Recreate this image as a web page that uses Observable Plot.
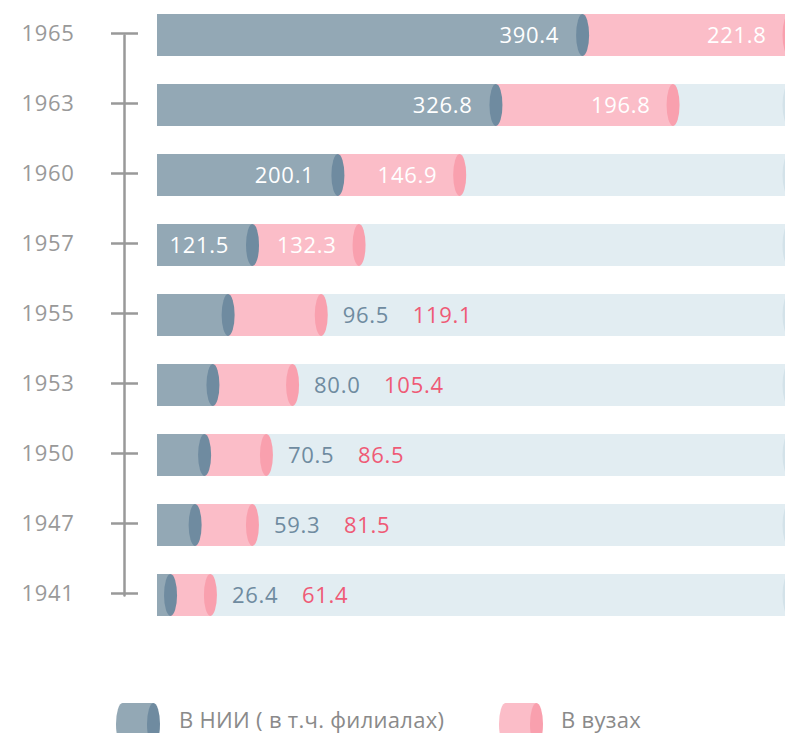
<!DOCTYPE html>
<html>
<head>
<meta charset="utf-8">
<script src="https://cdn.jsdelivr.net/npm/d3@7"></script>
<script src="https://cdn.jsdelivr.net/npm/@observablehq/plot@0.6"></script>
<style>
  body { margin: 0; background: #fff; font-family: "Open Sans", sans-serif; }
  #chart svg { display: block; }
  #chart text { letter-spacing: 0.7px; }
  #legend { position: relative; width: 785px; height: 43px; overflow: hidden; }
  #legend .icon { position: absolute; top: 13px; }
  #legend .lbl { position: absolute; top: 14px; line-height: 30px; font-size: 22px; color: #8a8a8a; white-space: nowrap; letter-spacing: 0.3px; }
</style>
</head>
<body>
<div id="chart"></div>
<div id="legend"></div>
<script>
// ---- data ----
const years = ["1965", "1963", "1960", "1957", "1955", "1953", "1950", "1947", "1941"];
const nii   = [390.4, 326.8, 200.1, 121.5, 96.5, 80.0, 70.5, 59.3, 26.4];   // В НИИ (в т.ч. филиалах)
const vuz   = [221.8, 196.8, 146.9, 132.3, 119.1, 105.4, 86.5, 81.5, 61.4]; // В вузах
const seriesNames = ["В НИИ ( в т.ч. филиалах)", "В вузах"];

// ---- styles ----
const C = {
  nii: "#93a8b5", niiCap: "#6f8ba0", niiText: "#6f8ba0",
  vuz: "#fbbdc8", vuzCap: "#f9a0ae", vuzText: "#ef5a76",
  bg: "#e2edf2", bgCap: "#d3e2e9", grey: "#999999"
};

// the original drawing sizes each segment by a power of its value (visual magnitude)
const EXP = 1.28;
const mag = v => Math.pow(v, EXP);

const rows = years.map((y, i) => {
  const a = mag(nii[i]), b = mag(vuz[i]);
  return {year: y, nii: nii[i], vuz: vuz[i], a, ab: a + b, inside: nii[i] > 100};
});
const maxEnd = d3.max(rows, d => d.ab);
const fmt = d3.format(".1f");
const inside = rows.filter(d => d.inside);
const outside = rows.filter(d => !d.inside);
const cap = {insetLeft: -6.5, insetRight: -6.5, rx: 6.5, ry: 21};
const font = {fontFamily: "Open Sans", fontSize: 22};

const chart = Plot.plot({
  width: 785,
  height: 690,
  marginLeft: 157,
  marginRight: 0,
  marginTop: 0,
  marginBottom: 0,
  x: {type: "linear", domain: [0, maxEnd], range: [157, 789], axis: null},
  y: {type: "band", domain: years, range: [13, 617.6], paddingInner: 0.4, paddingOuter: 0},
  marks: [
    // timeline
    Plot.line(years, {x: () => 0, y: d => d, dx: -33, stroke: C.grey, strokeWidth: 2.5}),
    Plot.axisY({anchor: "left", dx: -19, dy: -2, tickSize: 27, tickPadding: 37, stroke: C.grey, fill: C.grey,
      strokeWidth: 2.5, fontFamily: "Open Sans", fontSize: 22, label: null}),
    // background bars
    Plot.barX(rows, {y: "year", x1: () => 0, x2: () => maxEnd, fill: C.bg}),
    Plot.barX(rows, {y: "year", x1: () => maxEnd, x2: () => maxEnd, fill: C.bgCap, ...cap}),
    // stacked segments
    Plot.barX(rows, {y: "year", x1: () => 0, x2: "a", fill: C.nii}),
    Plot.barX(rows, {y: "year", x1: "a", x2: "ab", fill: C.vuz}),
    Plot.barX(rows, {y: "year", x1: "a", x2: "a", fill: C.niiCap, ...cap}),
    Plot.barX(rows, {y: "year", x1: "ab", x2: "ab", fill: C.vuzCap, ...cap}),
    // labels inside
    Plot.text(inside, {x: "a", y: "year", text: d => fmt(d.nii), textAnchor: "end", dx: -24, fill: "white", ...font}),
    Plot.text(inside, {x: "ab", y: "year", text: d => fmt(d.vuz), textAnchor: "end", dx: -23, fill: "white", ...font}),
    // labels outside
    Plot.text(outside, {x: "ab", y: "year", text: d => fmt(d.nii), textAnchor: "start", dx: 21, fill: C.niiText, ...font}),
    Plot.text(outside, {x: "ab", y: "year", text: d => fmt(d.vuz), textAnchor: "start", dx: 91, fill: C.vuzText, ...font})
  ]
});
document.getElementById("chart").appendChild(chart);

// ---- legend ----
const legend = document.getElementById("legend");
const items = [
  {name: seriesNames[0], fill: C.nii, capFill: C.niiCap, iconX: 116, textX: 179},
  {name: seriesNames[1], fill: C.vuz, capFill: C.vuzCap, iconX: 499, textX: 561}
];
for (const it of items) {
  const ns = "http://www.w3.org/2000/svg";
  const svg = document.createElementNS(ns, "svg");
  svg.setAttribute("width", 46); svg.setAttribute("height", 42);
  svg.setAttribute("class", "icon");
  svg.style.left = it.iconX + "px";
  const l = document.createElementNS(ns, "ellipse");
  l.setAttribute("cx", 6.5); l.setAttribute("cy", 21); l.setAttribute("rx", 6.5); l.setAttribute("ry", 21); l.setAttribute("fill", it.fill);
  const r = document.createElementNS(ns, "rect");
  r.setAttribute("x", 6.5); r.setAttribute("y", 0); r.setAttribute("width", 31); r.setAttribute("height", 42); r.setAttribute("fill", it.fill);
  const e = document.createElementNS(ns, "ellipse");
  e.setAttribute("cx", 37.5); e.setAttribute("cy", 21); e.setAttribute("rx", 6.5); e.setAttribute("ry", 21); e.setAttribute("fill", it.capFill);
  svg.append(l, r, e);
  legend.appendChild(svg);
  const span = document.createElement("span");
  span.className = "lbl";
  span.style.left = it.textX + "px";
  span.textContent = it.name;
  legend.appendChild(span);
}
</script>
</body>
</html>
